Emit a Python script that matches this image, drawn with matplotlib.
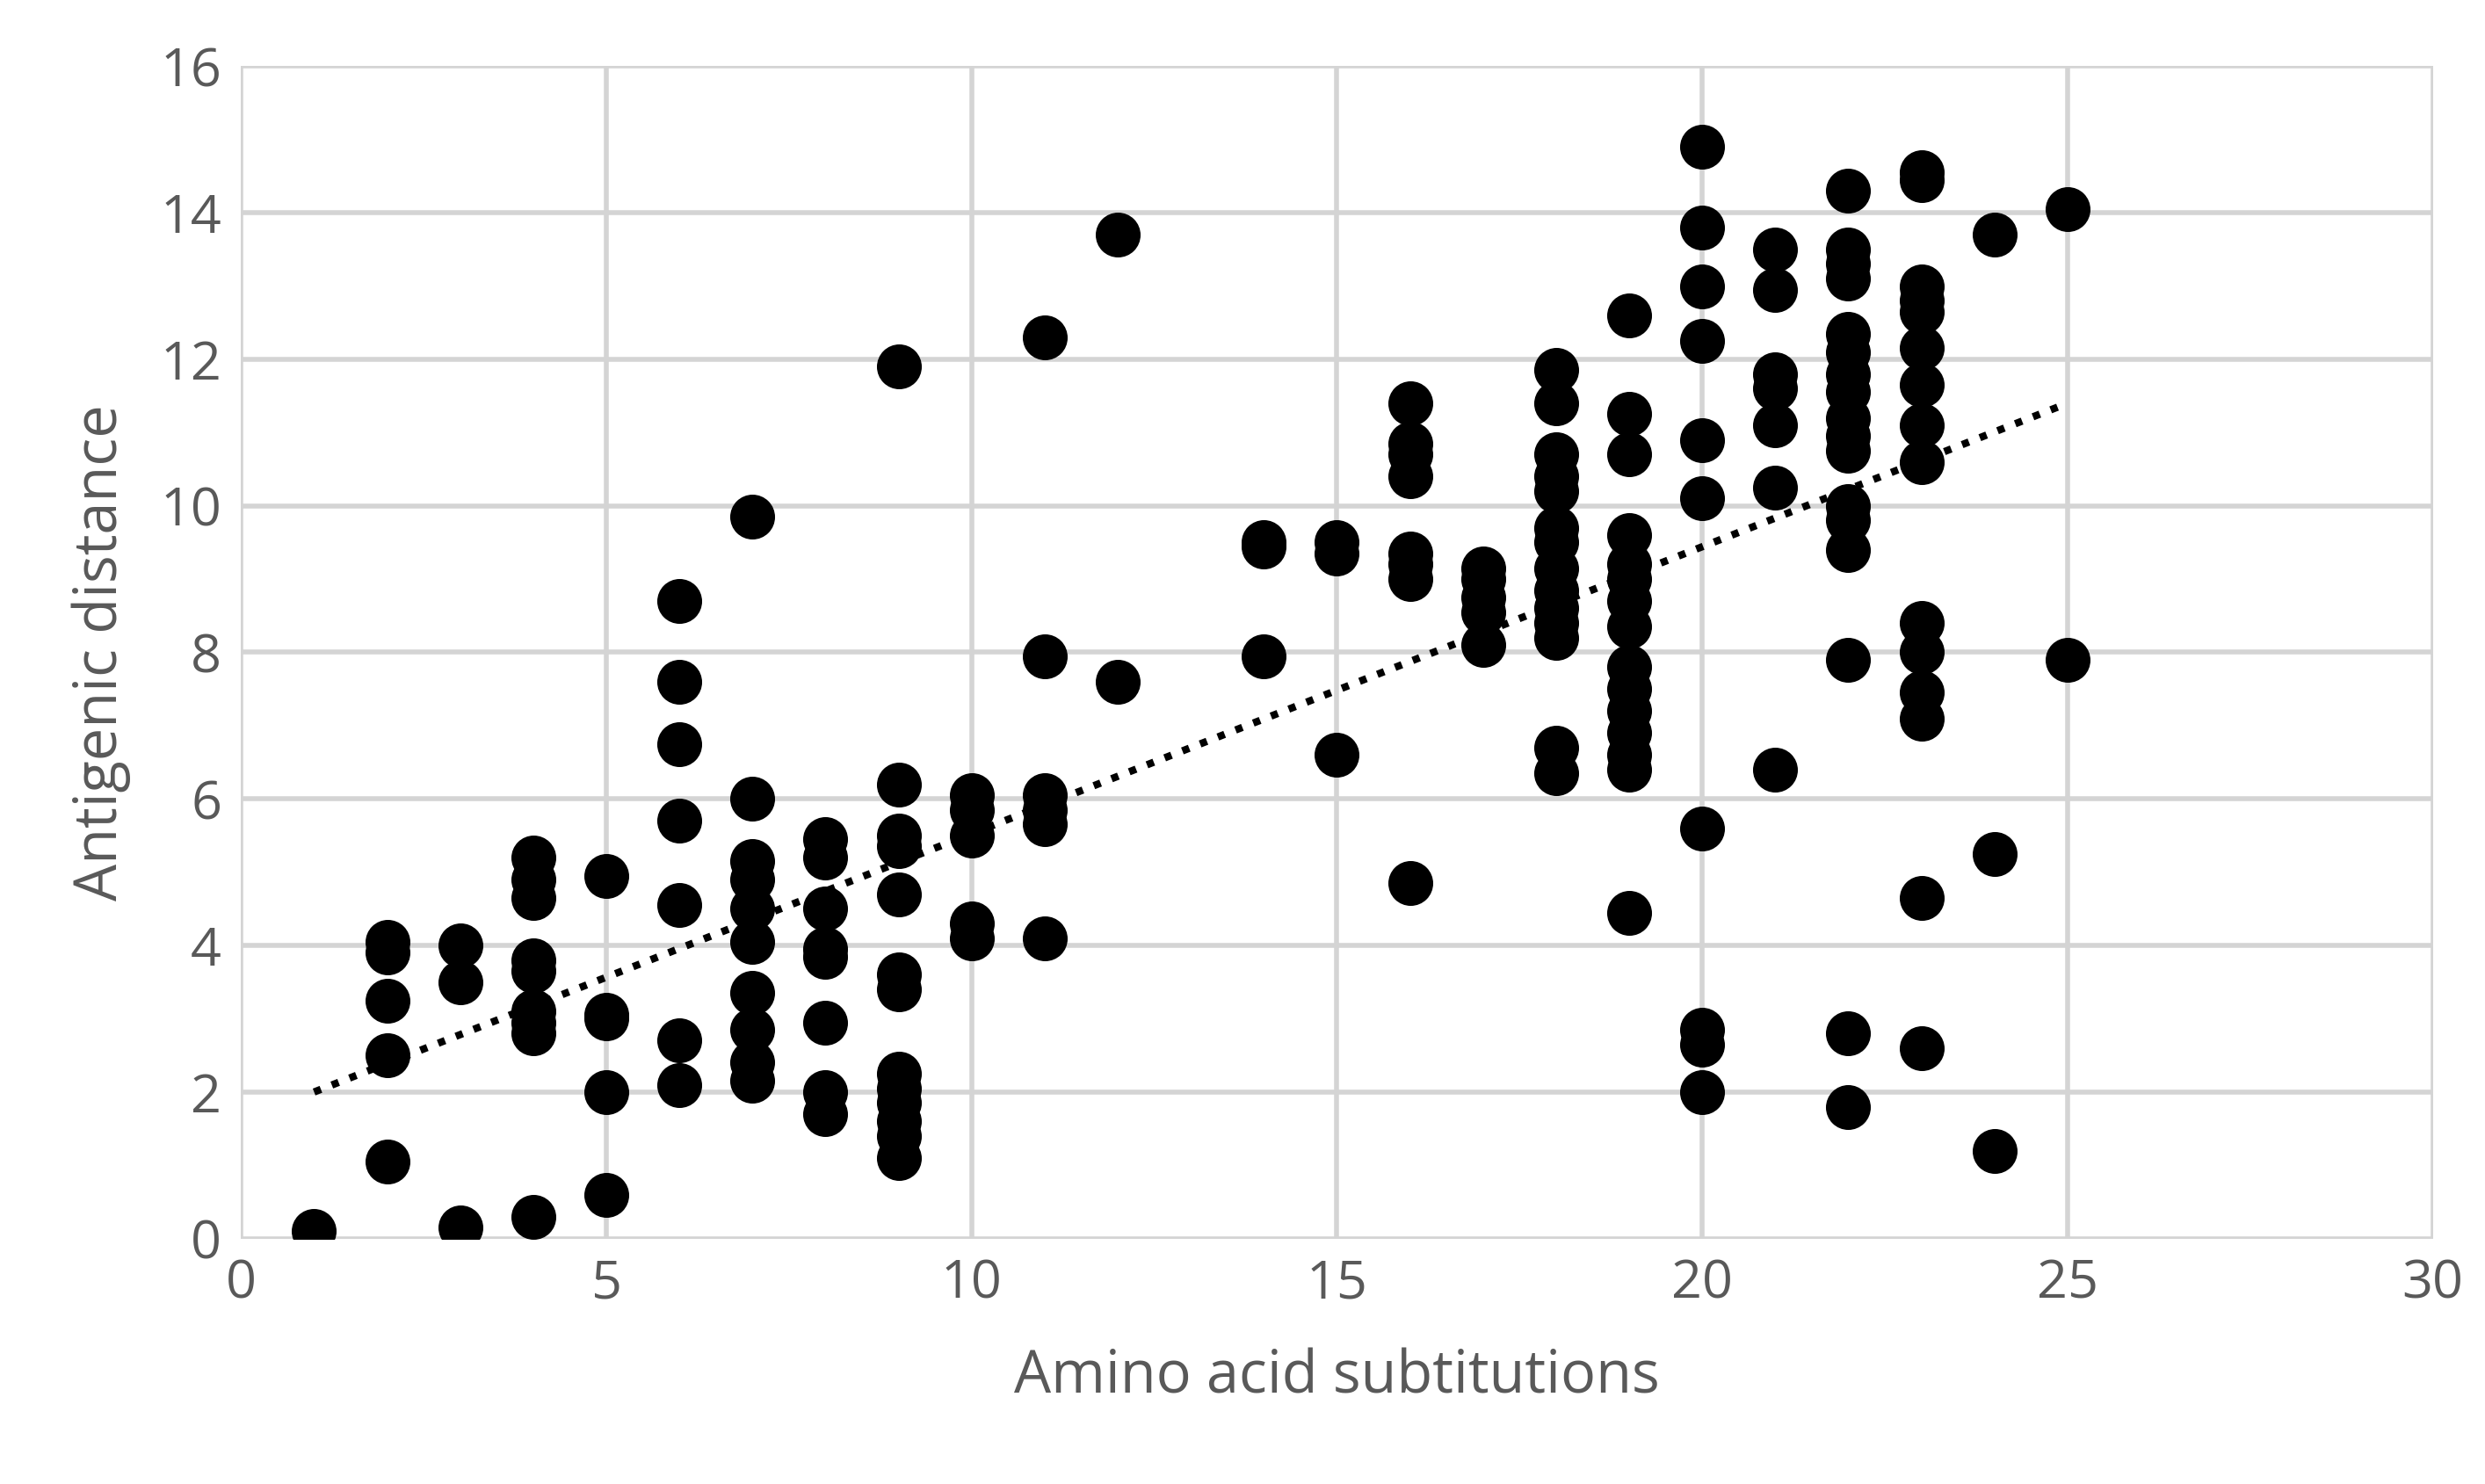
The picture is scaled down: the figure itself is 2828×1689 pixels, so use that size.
import numpy as np
import matplotlib
matplotlib.use("Agg")
import matplotlib.pyplot as plt

FS = 44
GRID = "#d4d4d4"

# substitutions -> antigenic distances
cols = {
    1: [0.1],
    2: [4.05, 3.9, 3.25, 2.5, 1.05],
    3: [4.0, 3.5, 0.15],
    4: [5.2, 4.9, 4.65, 3.8, 3.65, 3.1, 2.95, 2.8, 0.3],
    5: [4.95, 3.05, 3.0, 2.0, 0.6],
    6: [8.7, 7.6, 6.75, 5.7, 4.55, 2.7, 2.1],
    7: [9.85, 6.0, 5.15, 4.9, 4.5, 4.05, 3.35, 2.85, 2.4, 2.15],
    8: [5.45, 5.2, 4.5, 3.95, 3.85, 2.95, 2.0, 1.7],
    9: [11.9, 6.2, 5.5, 5.35, 4.7, 3.6, 3.4, 2.25, 2.05, 1.85, 1.6, 1.4, 1.1],
    10: [6.05, 5.85, 5.5, 4.3, 4.1],
    11: [12.3, 7.95, 6.05, 5.85, 5.65, 4.1],
    12: [13.7, 7.6],
    14: [9.5, 9.45, 7.95],
    15: [9.5, 9.35, 6.6],
    16: [11.4, 10.85, 10.7, 10.4, 9.35, 9.2, 9.0, 4.85],
    17: [9.15, 9.0, 8.75, 8.55, 8.1],
    18: [11.85, 11.4, 10.7, 10.4, 10.2, 9.7, 9.5, 9.15, 8.85, 8.6, 8.4, 8.2, 6.7, 6.35],
    19: [12.6, 11.25, 10.7, 9.6, 9.2, 9.0, 8.7, 8.35, 7.8, 7.5, 7.2, 6.9, 6.6, 6.4, 4.45],
    20: [14.9, 13.8, 13.0, 12.25, 10.9, 10.1, 5.6, 2.85, 2.65, 2.0],
    21: [13.5, 12.95, 11.8, 11.6, 11.1, 10.25, 6.4],
    22: [14.3, 13.5, 13.3, 13.1, 12.35, 12.1, 11.8, 11.55, 11.2, 10.95, 10.75, 10.0, 9.8, 9.4, 7.9, 2.8, 1.8],
    23: [14.55, 14.45, 13.0, 12.8, 12.65, 12.15, 11.65, 11.1, 10.6, 8.4, 8.0, 7.45, 7.1, 4.65, 2.6],
    24: [13.7, 5.25, 1.2],
    25: [14.05, 7.9],
}
x = np.concatenate([[k] * len(v) for k, v in cols.items()]).astype(float)
y = np.concatenate([v for v in cols.values()])

# trendline end points as drawn
trend_x = [1, 25]
trend_y = [2.0, 11.4]

fig = plt.figure(figsize=(28.28, 16.89), dpi=100)
ax = fig.add_axes([0.097, 0.1654, 0.882, 0.79])

ax.scatter(x, y, s=1350, c="black", zorder=3, linewidths=0)
ax.plot(trend_x, trend_y, color="black", linestyle=(0, (1, 1.6)), linewidth=6, zorder=4)

ax.set_xlim(0, 30)
ax.set_ylim(0, 16)
ax.set_xticks(range(0, 31, 5))
ax.set_yticks(range(0, 17, 2))
ax.grid(color=GRID, linewidth=4)
ax.set_axisbelow(True)
for s in ax.spines.values():
    s.set_visible(False)
ax.tick_params(length=0, labelsize=FS, labelcolor="#595959", pad=16)
ax.set_xlabel("Amino acid subtitutions", fontsize=48, color="#595959", labelpad=30)
ax.set_ylabel("Antigenic distance", fontsize=48, color="#595959", labelpad=24)
for t in ax.get_xticklabels() + ax.get_yticklabels():
    t.set_family("Open Sans")
ax.xaxis.label.set_family("Open Sans")
ax.yaxis.label.set_family("Open Sans")

plt.savefig("out.png", dpi=100)
